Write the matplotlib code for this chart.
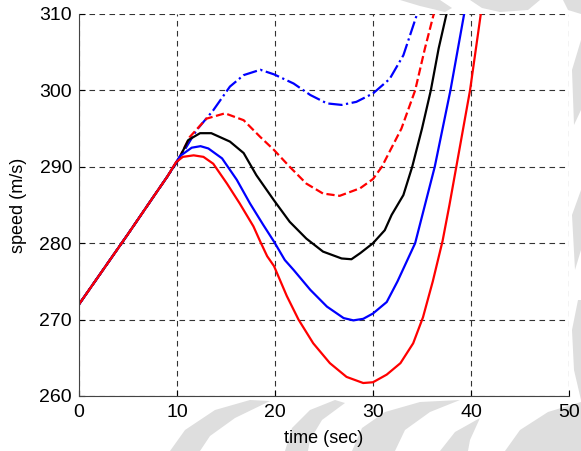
import numpy as np
import matplotlib
matplotlib.use('Agg')
import matplotlib.pyplot as plt
from matplotlib.patches import Polygon

plt.rcParams['font.family'] = ['Liberation Sans', 'DejaVu Sans']

# speed traces, read as (time, speed) pairs
t_red = [0, 2.5, 5, 7.5, 9, 9.9, 10.6, 11.7, 12.7, 13.7, 15.1, 16.4, 17.8, 18.5, 19.2, 19.9,
         21.2, 22.4, 23.9, 25.6, 27.3, 29.0, 30.0, 31.4, 32.8, 34.1, 35.1, 36.1, 37.1, 37.8,
         38.5, 39.2, 39.9, 41.0]
v_red = [272, 276.6, 281.2, 285.9, 288.7, 290.6, 291.3, 291.5, 291.3, 290.4, 287.8, 285.2,
         282.2, 280.2, 278.3, 277.0, 273.1, 270.0, 266.9, 264.3, 262.5, 261.7, 261.8, 262.8,
         264.3, 266.9, 270.3, 275.0, 280.3, 285.0, 290, 295, 300, 310]

t_blue = [0, 2.5, 5, 7.5, 9, 10.3, 11.5, 12.4, 13.2, 14.6, 16.1, 17.45, 18.8, 19.9, 21.0, 21.9,
          23.6, 25.3, 27.0, 28.0, 29.0, 30.0, 31.4, 32.5, 34.3, 35.3, 36.3, 37.1, 37.9, 39.3]
v_blue = [272, 276.6, 281.2, 285.9, 288.7, 291.4, 292.5, 292.7, 292.4, 291.1, 288.3, 285.2,
          282.4, 280.2, 277.8, 276.5, 273.9, 271.7, 270.2, 269.9, 270.1, 270.8, 272.3, 275.0,
          280.0, 285.0, 290.0, 295.0, 300.0, 310]

t_black = [0, 2.5, 5, 7.5, 9, 10.3, 11.15, 12.35, 13.5, 15.4, 16.8, 18.1, 19.9, 21.5, 23.2,
           24.9, 26.8, 27.8, 28.7, 30.0, 31.2, 31.9, 33.1, 34.0, 35.0, 35.9, 36.7, 37.5]
v_black = [272, 276.6, 281.2, 285.9, 288.7, 291.3, 293.5, 294.4, 294.4, 293.3, 291.8, 288.9,
           285.6, 282.8, 280.6, 278.9, 278.0, 277.9, 278.7, 280.0, 281.7, 283.7, 286.3, 290,
           295, 300, 305.5, 310]

t_red_dash = [0, 2.5, 5, 7.5, 9, 10.2, 11.3, 13.0, 14.9, 16.8, 18.5, 19.9, 21.5, 23.2, 24.9,
              26.6, 28.7, 30.0, 30.9, 32.9, 34.3, 35.3, 36.2]
v_red_dash = [272, 276.6, 281.2, 285.9, 288.7, 291.1, 293.9, 296.3, 297.0, 296.1, 293.9, 292.2,
              290.0, 287.8, 286.5, 286.2, 287.2, 288.4, 290, 295, 300, 305.5, 310]

t_blue_dd = [0, 2.5, 5, 7.5, 9, 10.3, 12.0, 13.7, 15.4, 16.8, 18.5, 19.9, 21.9, 23.6, 25.3,
             26.8, 28.3, 30.0, 31.7, 33.1, 34.5]
v_blue_dd = [272, 276.6, 281.2, 285.9, 288.7, 291.2, 294.8, 297.4, 300.5, 302.0, 302.7, 302.1,
             300.9, 299.4, 298.3, 298.1, 298.5, 299.6, 301.5, 304.6, 310]

x_ticks = [0, 10, 20, 30, 40, 50]
y_ticks = [260, 270, 280, 290, 300, 310]

fig = plt.figure(figsize=(5.81, 4.51), dpi=100)

# faint logo shapes in the page margins
wm = '#dedede'
shapes = [
    [(400, 0), (440, 0), (452, 8), (445, 12), (420, 6)],
    [(470, 0), (540, 0), (528, 10), (500, 12), (482, 8)],
    [(563, 0), (581, 0), (581, 14), (568, 10)],
    [(572, 70), (581, 40), (581, 110), (574, 125)],
    [(572, 215), (581, 190), (581, 250), (575, 270)],
    [(572, 330), (578, 300), (581, 300), (581, 400), (574, 370)],
    [(170, 451), (185, 430), (215, 410), (250, 400), (270, 401), (235, 418), (210, 436), (200, 451)],
    [(285, 451), (292, 428), (310, 410), (335, 400), (345, 403), (322, 420), (310, 440), (308, 451)],
    [(352, 451), (362, 428), (385, 412), (420, 402), (460, 400), (430, 412), (405, 430), (395, 451)],
    [(440, 451), (455, 432), (480, 418), (470, 440), (468, 451)],
    [(505, 451), (520, 430), (548, 412), (581, 402), (581, 451)],
]
for pts in shapes:
    fig.patches.append(Polygon([(x / 581, 1 - y / 451) for x, y in pts], closed=True,
                               transform=fig.transFigure, facecolor=wm, edgecolor='none',
                               zorder=0))

ax = fig.add_axes([79 / 581, 55 / 451, 490 / 581, 382 / 451])
ax.set_zorder(1)

lw = 1.6
ax.plot(t_blue_dd, v_blue_dd, color='blue', lw=lw, linestyle='-.')
ax.plot(t_red_dash, v_red_dash, color='red', lw=lw, linestyle='--')
ax.plot(t_black, v_black, color='black', lw=lw)
ax.plot(t_blue, v_blue, color='blue', lw=lw)
ax.plot(t_red, v_red, color='red', lw=lw)

ax.set_xlim(0, 50)
ax.set_ylim(260, 310)
ax.set_xticks(x_ticks)
ax.set_yticks(y_ticks)
ax.tick_params(direction='in', labelsize=14, length=4, width=0.8)
ax.tick_params(axis='x', pad=6)
ax.tick_params(axis='y', pad=5)
ax.grid(True, color='#333333', linestyle=(0, (5, 4)), linewidth=0.8)
for side in ['top', 'right']:
    ax.spines[side].set_visible(False)
for side in ['left', 'bottom']:
    ax.spines[side].set_color('#444444')
    ax.spines[side].set_linewidth(0.8)

ax.set_xlabel('time (sec)', fontsize=13, labelpad=6)
ax.set_ylabel('speed (m/s)', fontsize=13, labelpad=9)

fig.savefig('out.png', dpi=100)
